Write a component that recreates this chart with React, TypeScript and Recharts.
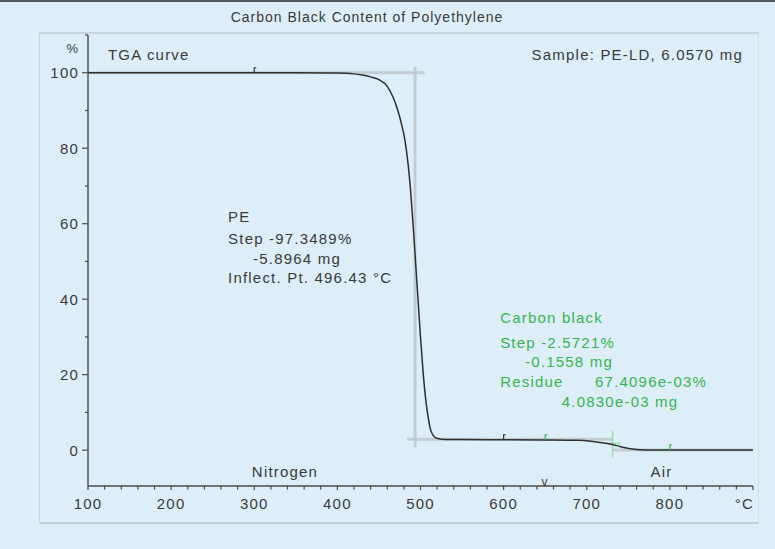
import React from 'react';
import { LineChart, Line, XAxis, YAxis, ReferenceLine, ReferenceDot } from 'recharts';

// ---- data ----
const temperatures = [100, 200, 300, 350, 400, 420, 430, 440, 450, 460, 467, 472, 477, 481, 485, 488, 491, 494, 497, 500, 503, 506, 509, 512, 515, 518, 522, 530, 550, 600, 650, 690, 705, 718, 728, 736, 745, 755, 765, 775, 800, 850, 900];
const massPercent = [100, 100, 100, 100, 99.9, 99.7, 99.4, 98.9, 98.2, 96.4, 93.5, 90.5, 86.5, 82.5, 76, 69, 60, 50, 40, 30, 21, 14, 9, 5.5, 4, 3.3, 3.0, 2.85, 2.8, 2.75, 2.7, 2.6, 2.35, 1.95, 1.6, 1.2, 0.7, 0.3, 0.12, 0.07, 0.07, 0.07, 0.07];

const xTicks = [100, 120, 140, 160, 180, 200, 220, 240, 260, 280, 300, 320, 340, 360, 380, 400, 420, 440, 460, 480, 500, 520, 540, 560, 580, 600, 620, 640, 660, 680, 700, 720, 740, 760, 780, 800, 820, 840, 860, 880, 900];
const xMajorTicks = [100, 200, 300, 400, 500, 600, 700, 800, 900];
const xTickLabels = ['100', '200', '300', '400', '500', '600', '700', '800', '°C'];
const yTicks = [0, 10, 20, 30, 40, 50, 60, 70, 80, 90, 100, 110];
const yMajorTicks = [0, 20, 40, 60, 80, 100];

// evaluation construction lines (temperature, percent)
const greyGuides = [
  [[100, 100], [505, 100]],
  [[493.5, 101.5], [493.5, 0.7]],
  [[484, 2.9], [731, 2.9]],
  [[731, 0.07], [900, 0.07]],
];
const greenGuides = [
  [[731, 5.2], [731, -2.0]],
  [[722, 1.8], [741, 1.8]],
];
const limitMarks = [
  { t: 300, v: 100, c: '#2e2e2e' },
  { t: 600, v: 2.75, c: '#2e2e2e' },
  { t: 650, v: 2.7, c: '#3cb650' },
  { t: 800, v: 0.07, c: '#3cb650' },
];

const TEXT = '#3a3a3a';
const GREEN = '#36b54d';

// annotations: temperature, percent (text centre line), text, colour, anchor
const annotations = [
  { t: 124, v: 104.8, text: 'TGA curve', c: TEXT, a: 'start' },
  { t: 888, v: 104.8, text: 'Sample: PE-LD, 6.0570 mg', c: TEXT, a: 'end' },
  { t: 268.5, v: 61.8, text: 'PE', c: TEXT, a: 'start' },
  { t: 268.5, v: 56.0, text: 'Step -97.3489%', c: TEXT, a: 'start' },
  { t: 298.6, v: 50.7, text: '-5.8964 mg', c: TEXT, a: 'start' },
  { t: 268.5, v: 45.6, text: 'Inflect. Pt. 496.43 °C', c: TEXT, a: 'start' },
  { t: 595.8, v: 35.0, text: 'Carbon black', c: GREEN, a: 'start' },
  { t: 595.8, v: 28.5, text: 'Step -2.5721%', c: GREEN, a: 'start' },
  { t: 625.9, v: 23.4, text: '-0.1558 mg', c: GREEN, a: 'start' },
  { t: 595.8, v: 18.1, text: 'Residue', c: GREEN, a: 'start' },
  { t: 710, v: 18.1, text: '67.4096e-03%', c: GREEN, a: 'start' },
  { t: 670, v: 12.8, text: '4.0830e-03 mg', c: GREEN, a: 'start' },
  { t: 337, v: -5.8, text: 'Nitrogen', c: TEXT, a: 'middle' },
  { t: 790, v: -5.8, text: 'Air', c: TEXT, a: 'middle' },
];

const chartData = temperatures.map((t, i) => ({ t, m: massPercent[i] }));

const FONT = '"Liberation Sans", Arial, sans-serif';
const AXIS = '#4a4a4a';
const X_TICK_SIZE = 4;
const X_TICK_MARGIN = 8;
const Y_TICK_SIZE = 6;
const Y_TICK_MARGIN = 2;

const XTick = (props: any) => {
  const { x, y, payload } = props;
  const v = payload.value;
  const axisY = y - X_TICK_SIZE - X_TICK_MARGIN;
  const idx = xMajorTicks.indexOf(v);
  const last = idx === xMajorTicks.length - 1;
  return (
    <g>
      <line x1={x} x2={x} y1={axisY} y2={axisY + (idx >= 0 ? 4 : 3.5)} stroke={AXIS} strokeWidth={1.2} />
      {idx >= 0 && (
        <text x={last ? x + 1 : x} y={y} dy="0.71em" textAnchor={last ? 'end' : 'middle'} fill={TEXT} fontSize={15} letterSpacing={1.2} fontFamily={FONT}>
          {xTickLabels[idx]}
        </text>
      )}
    </g>
  );
};

const YTick = (props: any) => {
  const { x, y, payload } = props;
  const v = payload.value;
  const axisX = x + Y_TICK_SIZE + Y_TICK_MARGIN;
  const major = yMajorTicks.indexOf(v) >= 0;
  return (
    <g>
      <line x1={axisX - (major ? 6 : 3)} x2={axisX} y1={y} y2={y} stroke={AXIS} strokeWidth={1.2} />
      {major && (
        <text x={x - 1} y={y} dy="0.36em" textAnchor="end" fill={TEXT} fontSize={15} letterSpacing={1.2} fontFamily={FONT}>
          {v}
        </text>
      )}
    </g>
  );
};

const makeTextShape = (text: string, color: string, anchor: string, size = 15) => (p: any) => (
  <text x={p.cx} y={p.cy} dy="0.36em" textAnchor={anchor} fill={color} fontSize={size} letterSpacing={1.2} fontFamily={FONT}>
    {text}
  </text>
);

const makeMarkShape = (color: string) => (p: any) => (
  <path d={`M${p.cx},${p.cy} L${p.cx},${p.cy - 5} L${p.cx + 2},${p.cy - 5}`} stroke={color} strokeWidth={1.2} fill="none" />
);

export default function App() {
  return (
    <div style={{ position: 'absolute', left: 0, top: 0, width: 775, height: 549, background: '#ddeef9', overflow: 'hidden' }}>
      <div style={{ position: 'absolute', left: 0, top: 0, width: 775, height: 2, background: '#50565a' }} />
      <div
        style={{
          position: 'absolute', left: 39, top: 32, width: 718, height: 488,
          borderTop: '2px solid #cbd6dc', borderLeft: '1px solid #cbd6dc', borderRight: '1px solid #d3dde2', borderBottom: '2px solid #c4ced3',
        }}
      />
      <div
        style={{
          position: 'absolute', left: 0, top: 9, width: 734, textAlign: 'center', fontFamily: FONT, fontSize: 14,
          letterSpacing: 1, color: TEXT, lineHeight: '16px',
        }}
      >
        Carbon Black Content of Polyethylene
      </div>
      <div style={{ position: 'absolute', left: 0, top: 0 }}>
        <LineChart width={775} height={549} data={chartData} margin={{ top: 35, right: 22, left: 48, bottom: 33 }}>
          <XAxis
            dataKey="t" type="number" domain={[100, 900]} ticks={xTicks} interval={0}
            height={30} tickSize={X_TICK_SIZE} tickMargin={X_TICK_MARGIN} tickLine={false}
            tick={<XTick />} axisLine={{ stroke: AXIS, strokeWidth: 1.4 }} allowDataOverflow
          />
          <YAxis
            type="number" domain={[-9.5, 110]} ticks={yTicks} interval={0} width={40}
            tickSize={Y_TICK_SIZE} tickMargin={Y_TICK_MARGIN} tickLine={false}
            tick={<YTick />} axisLine={{ stroke: AXIS, strokeWidth: 1.4 }} allowDataOverflow
          />
          {greyGuides.map((g, i) => (
            <ReferenceLine key={`g${i}`} segment={[{ x: g[0][0], y: g[0][1] }, { x: g[1][0], y: g[1][1] }]} stroke="#c2ccd1" strokeWidth={3} ifOverflow="visible" />
          ))}
          {greenGuides.map((g, i) => (
            <ReferenceLine key={`gg${i}`} segment={[{ x: g[0][0], y: g[0][1] }, { x: g[1][0], y: g[1][1] }]} stroke="#9ddfa8" strokeWidth={1.5} ifOverflow="visible" />
          ))}
          <Line dataKey="m" type="monotone" stroke="#2f2f2f" strokeWidth={1.5} dot={false} isAnimationActive={false} />
          {limitMarks.map((m, i) => (
            <ReferenceDot key={`m${i}`} x={m.t} y={m.v} r={0} shape={makeMarkShape(m.c)} ifOverflow="visible" />
          ))}
          <ReferenceDot x={650} y={-8.4} r={0} shape={makeTextShape('v', TEXT, 'middle', 12)} ifOverflow="visible" />
          <ReferenceDot x={100} y={106.6} r={0} shape={(p: any) => (
            <text x={p.cx - 10} y={p.cy} dy="0.36em" textAnchor="end" fill={TEXT} fontSize={13} fontFamily={FONT}>%</text>
          )} ifOverflow="visible" />
          {annotations.map((a, i) => (
            <ReferenceDot key={`a${i}`} x={a.t} y={a.v} r={0} shape={makeTextShape(a.text, a.c, a.a)} ifOverflow="visible" />
          ))}
        </LineChart>
      </div>
    </div>
  );
}
